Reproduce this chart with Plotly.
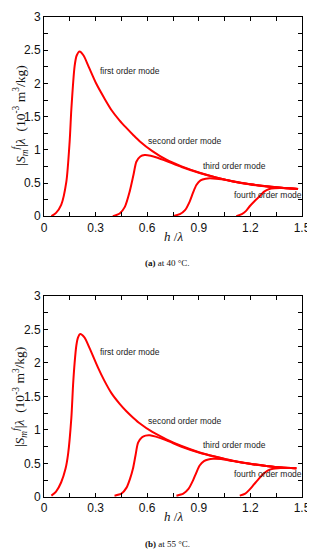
import plotly.graph_objects as go

# ---------------- data (a) at 40 °C ----------------
a_m1_x = [0.043, 0.07, 0.10, 0.13, 0.149, 0.159, 0.178, 0.19, 0.207, 0.23, 0.26, 0.305, 0.35, 0.392, 0.44, 0.479, 0.52, 0.556, 0.63, 0.712, 0.8, 0.905, 1.0, 1.099, 1.2, 1.293, 1.38, 1.477]
a_m1_y = [0.0, 0.05, 0.17, 0.52, 1.12, 1.61, 2.26, 2.42, 2.48, 2.42, 2.25, 1.99, 1.78, 1.60, 1.44, 1.33, 1.22, 1.13, 0.98, 0.85, 0.75, 0.655, 0.585, 0.525, 0.48, 0.45, 0.428, 0.41]
a_m2_x = [0.40, 0.44, 0.47, 0.498, 0.52, 0.537, 0.56, 0.585, 0.62, 0.66, 0.712, 0.8, 0.905, 1.0, 1.099, 1.2, 1.293, 1.38, 1.477]
a_m2_y = [0.0, 0.04, 0.14, 0.37, 0.62, 0.82, 0.9, 0.92, 0.91, 0.88, 0.83, 0.74, 0.65, 0.583, 0.524, 0.48, 0.45, 0.428, 0.41]
a_m3_x = [0.75, 0.79, 0.82, 0.847, 0.866, 0.886, 0.91, 0.94, 0.963, 1.0, 1.06, 1.099, 1.2, 1.293, 1.38, 1.477]
a_m3_y = [0.0, 0.03, 0.09, 0.22, 0.35, 0.47, 0.54, 0.565, 0.57, 0.565, 0.545, 0.522, 0.478, 0.448, 0.427, 0.41]
a_m4_x = [1.118, 1.15, 1.175, 1.196, 1.225, 1.254, 1.28, 1.31, 1.34, 1.38, 1.43, 1.477]
a_m4_y = [0.0, 0.03, 0.08, 0.15, 0.23, 0.30, 0.37, 0.41, 0.422, 0.425, 0.418, 0.41]

# ---------------- data (b) at 55 °C ----------------
b_m1_x = [0.043, 0.07, 0.10, 0.125, 0.14, 0.159, 0.169, 0.178, 0.188, 0.198, 0.21, 0.235, 0.265, 0.314, 0.35, 0.392, 0.44, 0.479, 0.52, 0.556, 0.63, 0.712, 0.8, 0.905, 1.0, 1.099, 1.2, 1.293, 1.38, 1.467]
b_m1_y = [0.02, 0.08, 0.22, 0.42, 0.64, 1.18, 1.67, 2.0, 2.26, 2.38, 2.43, 2.38, 2.22, 1.93, 1.74, 1.55, 1.39, 1.28, 1.18, 1.10, 0.97, 0.86, 0.76, 0.665, 0.6, 0.54, 0.495, 0.463, 0.44, 0.43]
b_m2_x = [0.41, 0.45, 0.48, 0.50, 0.517, 0.532, 0.547, 0.57, 0.59, 0.615, 0.65, 0.712, 0.8, 0.905, 1.0, 1.099, 1.2, 1.293, 1.38, 1.467]
b_m2_y = [0.02, 0.05, 0.14, 0.27, 0.42, 0.62, 0.81, 0.89, 0.915, 0.92, 0.9, 0.845, 0.75, 0.66, 0.598, 0.539, 0.495, 0.463, 0.44, 0.43]
b_m3_x = [0.77, 0.81, 0.84, 0.866, 0.885, 0.905, 0.93, 0.955, 0.983, 1.03, 1.099, 1.2, 1.293, 1.38, 1.467]
b_m3_y = [0.02, 0.05, 0.12, 0.245, 0.36, 0.47, 0.535, 0.56, 0.57, 0.565, 0.535, 0.493, 0.462, 0.44, 0.43]
b_m4_x = [1.138, 1.17, 1.195, 1.215, 1.245, 1.273, 1.30, 1.331, 1.36, 1.39, 1.43, 1.467]
b_m4_y = [0.02, 0.05, 0.11, 0.17, 0.26, 0.34, 0.395, 0.42, 0.43, 0.435, 0.432, 0.43]

x_ticks = [0, 0.3, 0.6, 0.9, 1.2, 1.5]
y_ticks = [0, 0.5, 1, 1.5, 2, 2.5, 3]
mode_labels = ["first order mode", "second order mode", "third order mode", "fourth order mode"]
a_label_x = [0.312, 0.595, 0.915, 1.093]
a_label_y = [2.18, 1.14, 0.76, 0.32]
b_label_x = [0.314, 0.595, 0.915, 1.093]
b_label_y = [2.17, 1.14, 0.775, 0.34]
captions = ["<b>(a)</b> at 40 °C.", "<b>(b)</b> at 55 °C."]

RED = "#ff0000"
fig = go.Figure()

def add_curves(xs_list, ys_list, xa, ya):
    for xs, ys in zip(xs_list, ys_list):
        fig.add_trace(go.Scatter(x=xs, y=ys, mode="lines", xaxis=xa, yaxis=ya,
                                 line=dict(color=RED, width=2, shape="spline", smoothing=0.7),
                                 showlegend=False, hoverinfo="skip"))

add_curves([a_m1_x, a_m2_x, a_m3_x, a_m4_x], [a_m1_y, a_m2_y, a_m3_y, a_m4_y], "x", "y")
add_curves([b_m1_x, b_m2_x, b_m3_x, b_m4_x], [b_m1_y, b_m2_y, b_m3_y, b_m4_y], "x2", "y2")

tickfont = dict(family="Liberation Sans, Arial, sans-serif", size=12, color="#111")
axis_common = dict(showline=True, linecolor="black", linewidth=1, mirror="allticks",
                   ticks="inside", ticklen=4, tickcolor="black", showgrid=False,
                   zeroline=False, tickfont=tickfont, ticklabeloverflow="allow")
minor_x = dict(dtick=0.15, tick0=0, ticks="inside", ticklen=4, tickcolor="black")
minor_y = dict(dtick=0.25, tick0=0, ticks="inside", ticklen=4, tickcolor="black")

# the page body adds an 8px offset, so the figure is sized 8px smaller
fig.update_layout(
    width=307, height=542,
    margin=dict(l=36, r=13, t=2, b=53),
    paper_bgcolor="white", plot_bgcolor="white",
    xaxis=dict(domain=[0, 1], anchor="y", range=[0, 1.5], tickvals=x_ticks, minor=minor_x, **axis_common),
    yaxis=dict(domain=[0.585, 1], anchor="x", range=[0, 3], tickvals=y_ticks, minor=minor_y, **axis_common),
    xaxis2=dict(domain=[0, 1], anchor="y2", range=[0, 1.5], tickvals=x_ticks, minor=minor_x, **axis_common),
    yaxis2=dict(domain=[0, 0.419], anchor="x2", range=[0, 3], tickvals=y_ticks, minor=minor_y, **axis_common),
)

lab_font = dict(family="Liberation Sans, Arial, sans-serif", size=8.5, color="#222")
for t, x, y in zip(mode_labels, a_label_x, a_label_y):
    fig.add_annotation(text=t, x=x, y=y, xref="x", yref="y", showarrow=False,
                       xanchor="left", yanchor="middle", font=lab_font)
for t, x, y in zip(mode_labels, b_label_x, b_label_y):
    fig.add_annotation(text=t, x=x, y=y, xref="x2", yref="y2", showarrow=False,
                       xanchor="left", yanchor="middle", font=lab_font)

serif = "Liberation Serif, Times New Roman, serif"
ytitle = "|<i>S</i><sub><i>m</i></sub><sup><i>f</i></sup>|<i>λ</i>  (10<sup>-3</sup> m<sup>3</sup>/kg)"
xtitle = "<i>h</i> /<i>λ</i>"
for yp_title, yp_x in [(0.795, 0.542), (0.209, -0.041)]:
    fig.add_annotation(text=ytitle, x=-0.136, y=yp_title, xref="paper", yref="paper",
                       textangle=-90, showarrow=False, xanchor="left", yanchor="middle",
                       font=dict(family=serif, size=13.5, color="#111"))
    fig.add_annotation(text=xtitle, x=0.5, y=yp_x, xref="paper", yref="paper",
                       showarrow=False, xanchor="center", yanchor="middle",
                       font=dict(family=serif, size=13, color="#111"))
for cap, yp in zip(captions, [0.487, -0.0986]):
    fig.add_annotation(text=cap, x=0.477, y=yp, xref="paper", yref="paper",
                       showarrow=False, xanchor="center", yanchor="middle",
                       font=dict(family=serif, size=9, color="#111"))

fig.write_html("out.html")
